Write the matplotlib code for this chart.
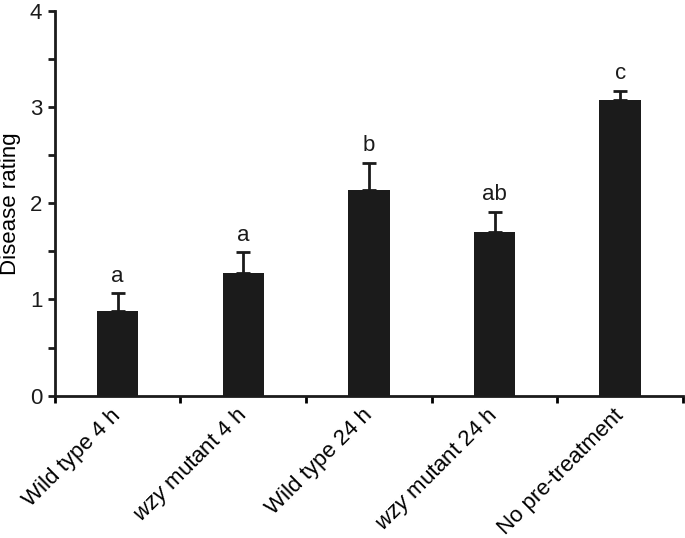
import numpy as np
import matplotlib
matplotlib.use("Agg")
import matplotlib.pyplot as plt

plt.rcParams['font.family'] = ['Liberation Sans', 'DejaVu Sans']
plt.rcParams['mathtext.fontset'] = 'custom'
plt.rcParams['mathtext.rm'] = 'Liberation Sans'
plt.rcParams['mathtext.it'] = 'Liberation Sans:italic'

# Data
categories = ["Wild type 4 h", r"$\mathit{wzy}$ mutant 4 h", "Wild type 24 h",
              r"$\mathit{wzy}$ mutant 24 h", "No pre-treatment"]
means = [0.88, 1.27, 2.14, 1.705, 3.07]
errors = [0.185, 0.22, 0.28, 0.205, 0.10]
letters = ["a", "a", "b", "ab", "c"]

fig = plt.figure(figsize=(6.85, 5.38), dpi=100)
ax = fig.add_axes([0.080, 0.2645, 0.917, 0.7155])

x = np.arange(len(categories))
bar_color = "#1b1b1b"
ax.bar(x, means, width=0.33, color=bar_color, zorder=2)
# one-sided (upper) error bars
ax.errorbar(x, means, yerr=[np.zeros(len(means)), errors], fmt="none",
            ecolor=bar_color, elinewidth=2, capsize=5, capthick=2, zorder=1)

for xi, m, e, lab in zip(x, means, errors, letters):
    ax.text(xi, m + e + 0.12, lab, ha="center", va="baseline", fontsize=16,
            color="#1b1b1b")

ax.set_xlim(-0.5, len(categories) - 0.5)
ax.set_ylim(0, 4)

for s in ["top", "right"]:
    ax.spines[s].set_visible(False)
for s in ["left", "bottom"]:
    ax.spines[s].set_linewidth(2)
    ax.spines[s].set_color("#1b1b1b")

ax.set_yticks([0, 1, 2, 3, 4])
ax.set_yticks(np.arange(0.5, 4, 1), minor=True)
ax.tick_params(axis="y", which="both", direction="out", length=5, width=2,
               labelsize=16, pad=4, colors="#1b1b1b")

ax.set_xticks(x)
ax.set_xticklabels(categories, rotation=45, ha="right", va="center",
                   rotation_mode="anchor", fontsize=16)
ax.set_xticks(np.arange(-0.5, len(categories), 1), minor=True)
ax.tick_params(axis="x", which="major", length=0, pad=12)
ax.tick_params(axis="x", which="minor", direction="out", length=5, width=2)

ax.set_ylabel("Disease rating", fontsize=16, labelpad=6)

fig.savefig("out.png", dpi=100)
